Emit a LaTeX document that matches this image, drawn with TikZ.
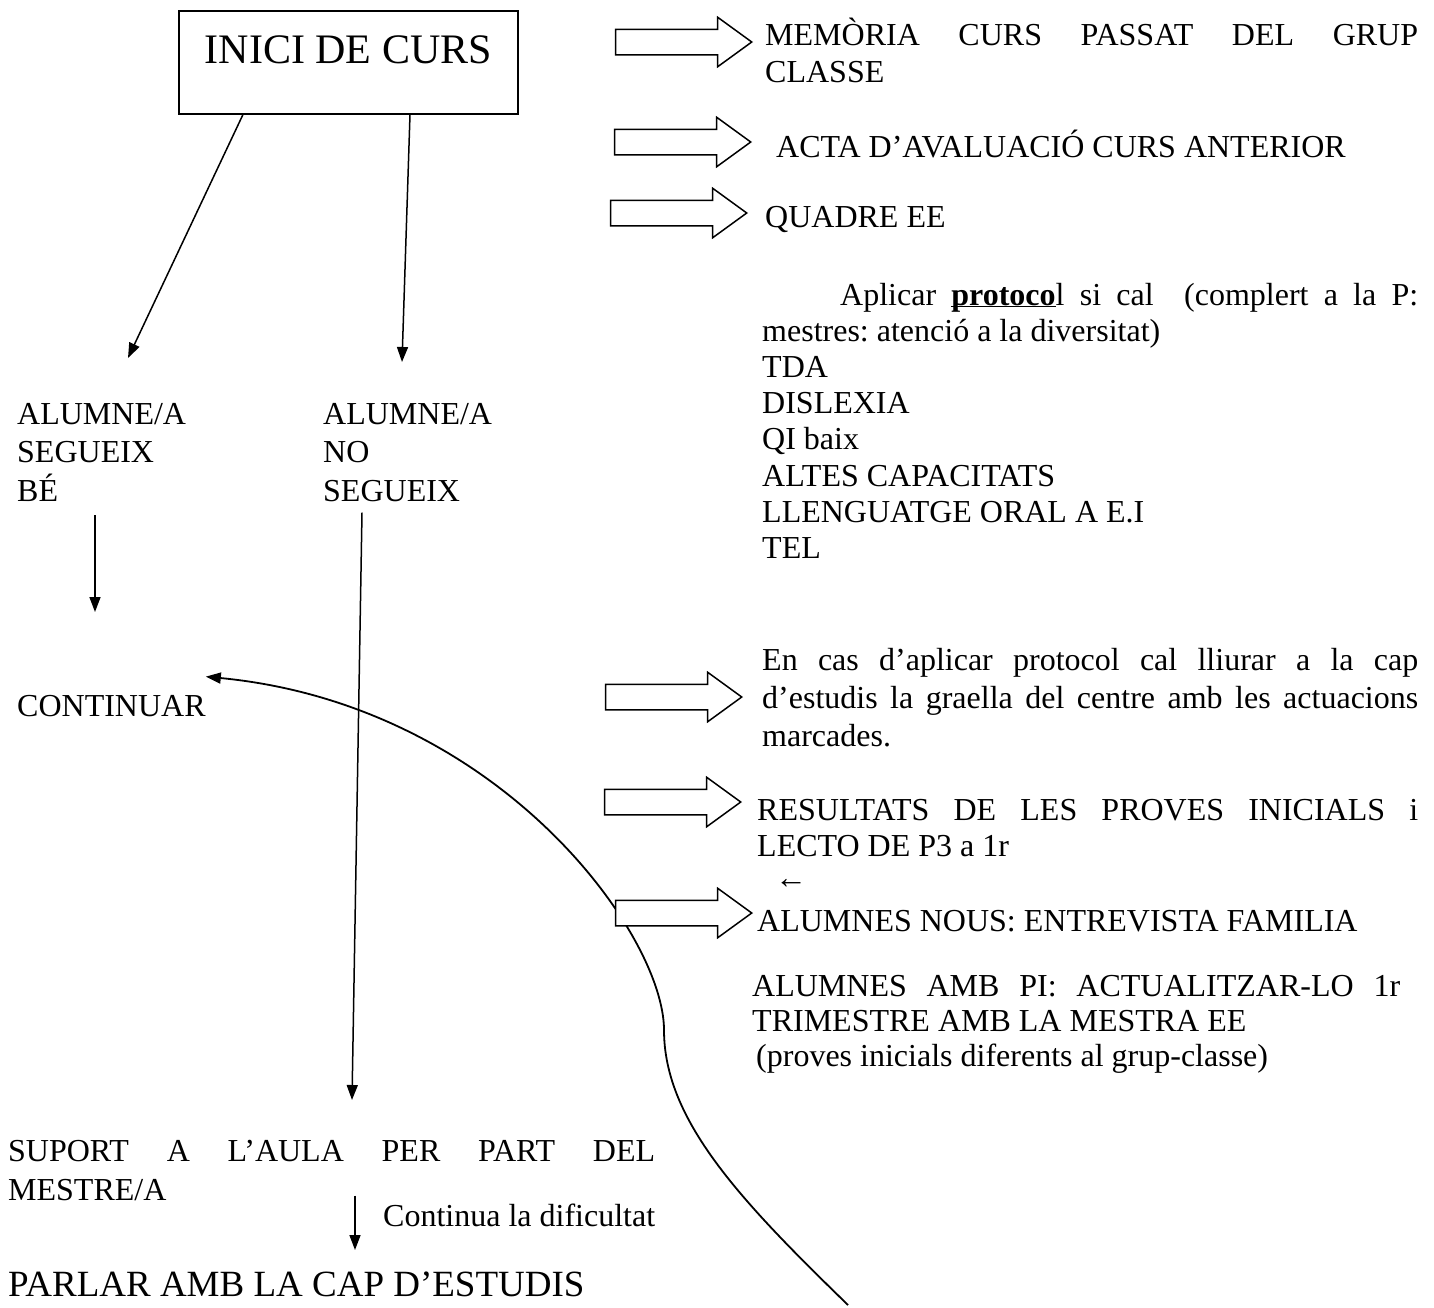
\documentclass[tikz,border=0pt]{standalone}
\usepackage{fontspec}
\setmainfont{Liberation Serif}
\usetikzlibrary{arrows.meta,shapes.arrows,calc}
\hyphenpenalty=10000
\exhyphenpenalty=10000
\tolerance=10000
\frenchspacing

\tikzset{
  txt/.style={inner sep=0pt, anchor=base west, font=\fontsize{32}{37}\selectfont},
  bloc/.style={txt, text width=#1, align=justify},
  llista/.style={txt, text width=#1, align=left},
  titol/.style={draw, line width=1.5pt, minimum width=339pt, minimum height=103pt,
    inner sep=0pt, text height=28pt, text depth=25pt, font=\fontsize{42}{48}\selectfont},
  gros/.style={single arrow, draw, fill=white, line width=1.5pt, minimum height=136pt,
    inner xsep=0pt, inner ysep=12pt, single arrow head extend=12pt, single arrow tip angle=72, anchor=tip},
  fletxa/.style={line width=1.5pt, -{Triangle[length=15pt,width=11pt]}},
}
\newcommand{\subratlla}[1]{\underline{\smash{#1}}}

\begin{document}
\begin{tikzpicture}[x=1pt,y=-1pt]
	\useasboundingbox (0,0) rectangle (1434,1307);

	\node[titol, anchor=north west] (inici) at (178,10) {INICI DE CURS};

	\node[llista=220pt, font=\fontsize{32}{38.5}\selectfont] (segueix) at (17,424) {ALUMNE/A\\SEGUEIX\\BÉ};
	\node[llista=220pt, font=\fontsize{32}{38.5}\selectfont] (noseg) at (323,424) {ALUMNE/A\\NO\\SEGUEIX};
	\node[txt] (continuar) at (17,716) {CONTINUAR};
	\node[bloc=647pt, font=\fontsize{32}{39}\selectfont] (suport) at (8,1161)
		{SUPORT A L’AULA PER PART DEL\linebreak MESTRE/A};
	\node[txt] (dificultat) at (383,1226) {Continua la dificultat};
	\node[txt, font=\fontsize{37}{42}\selectfont] (parlar) at (8,1296) {PARLAR AMB LA CAP D’ESTUDIS};

	\coordinate (pA) at (128,358);
	\coordinate (pB) at (402,362);
	\coordinate (pC) at (95,612);
	\coordinate (pD) at (352,1100);
	\coordinate (pE) at (355,1250);
	\coordinate (pF) at (848,1305);

	\draw[fletxa] ([xshift=65pt]inici.south west) -- (pA);
	\draw[fletxa] ([xshift=232pt]inici.south west) -- (pB);
	\draw[fletxa] ([shift={(78,14)}]segueix.south west) -- (pC);
	\draw[fletxa] ([shift={(39,11)}]noseg.south west) -- (pD);
	\draw[fletxa] ([shift={(347,-5)}]suport.south west) -- (pE);
	\draw[fletxa, line width=1.8pt] (pF) .. controls (740,1200) and (664,1120) .. (664,1030)
		.. controls (664,935) and (500,705) .. ([yshift=18pt]continuar.north east);

	\node[gros] (g1) at (753,42) {};
	\node[bloc=653pt] (memoria) at (765,45) {MEMÒRIA CURS PASSAT DEL GRUP\linebreak CLASSE};
	\node[gros] (g2) at (752,142) {};
	\node[txt] (acta) at (776,157) {ACTA D’AVALUACIÓ CURS ANTERIOR};
	\node[gros] (g3) at (748,213) {};
	\node[txt] (quadre) at (765,227) {QUADRE EE};

	\node[bloc=656pt, font=\fontsize{32}{36.2}\selectfont] (protocol) at (762,305)
		{\hspace*{78pt}Aplicar \textbf{\subratlla{protoco}}l si cal \ (complert a la P:\linebreak
		mestres: atenció a la diversitat)\\TDA\\DISLEXIA\\QI baix\\ALTES CAPACITATS\\LLENGUATGE ORAL A E.I\\TEL};

	\node[gros] (g4) at (743,697) {};
	\node[bloc=656pt, font=\fontsize{32}{38}\selectfont] (lliurar) at (762,670)
		{En cas d’aplicar protocol cal lliurar a la cap\linebreak
		d’estudis la graella del centre amb les actuacions\linebreak marcades.};
	\node[gros] (g5) at (742,802) {};
	\node[bloc=661pt, font=\fontsize{32}{36}\selectfont] (resultats) at (757,820)
		{RESULTATS DE LES PROVES INICIALS i\linebreak LECTO DE P3 a 1r};
	\node[txt] (retorn) at (775,888) {←};
	\node[gros] (g6) at (753,913) {};
	\node[txt] (nous) at (757,931) {ALUMNES NOUS: ENTREVISTA FAMILIA};
	\node[bloc=648pt, font=\fontsize{32}{35}\selectfont] (pi) at (752,996)
		{ALUMNES AMB PI: ACTUALITZAR-LO 1r\linebreak TRIMESTRE AMB LA MESTRA EE\\
		\hspace*{4pt}(proves inicials diferents al grup-classe)};
\end{tikzpicture}
\end{document}
